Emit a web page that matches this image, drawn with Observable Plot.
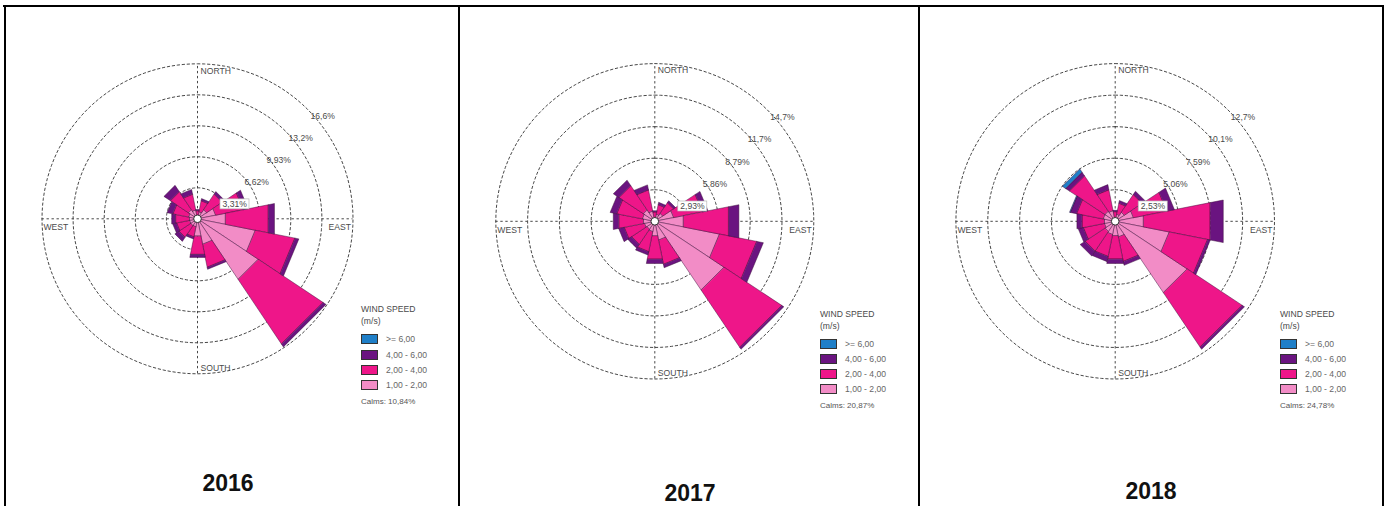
<!DOCTYPE html>
<html><head><meta charset="utf-8">
<script src="https://cdn.jsdelivr.net/npm/d3@7"></script>
<script src="https://cdn.jsdelivr.net/npm/@observablehq/plot@0.6"></script>
<style>
html,body{margin:0;padding:0;background:#fff;}
#page{position:relative;width:1386px;height:506px;overflow:hidden;font-family:"Liberation Sans",Arial,sans-serif;}
.ln{position:absolute;background:#000;}
.t{position:absolute;white-space:nowrap;line-height:1;}
.sw{position:absolute;box-sizing:border-box;border:1px solid #333;}
svg.rose{position:absolute;left:0;top:0;background:transparent !important;}
</style></head><body><div id="page"></div>
<script>
// ---- data ----
const directions = ["N","NNE","NE","ENE","E","ESE","SE","SSE","S","SSW","SW","WSW","W","WNW","NW","NNW"];
const speedClasses = ["1,00 - 2,00","2,00 - 4,00","4,00 - 6,00",">= 6,00"];
const classColors = ["#f28cc6","#ee1689","#6a1480","#1f7fc8"];
const years = ["2016","2017","2018"];
const calms = ["Calms: 10,84%","Calms: 20,87%","Calms: 24,78%"];
const ringSteps = [3.31, 2.93, 2.53];
const ringLabels2016 = ["3,31%","6,62%","9,93%","13,2%","16,6%"];
const ringLabels2017 = ["2,93%","5,86%","8,79%","11,7%","14,7%"];
const ringLabels2018 = ["2,53%","5,06%","7,59%","10,1%","12,7%"];
// frequency (%) per direction, N clockwise
const v2016_1to2 = [0.4,0.8,1.2,2.0,3.05,6.3,7.8,2.8,1.9,0.9,0.9,0.9,0.9,1.0,1.2,1.0];
const v2016_2to4 = [0.5,1.2,2.0,3.0,4.65,4.3,8.3,2.5,2.0,1.1,1.5,1.4,1.5,1.7,2.3,1.7];
const v2016_4to6 = [0.1,0.2,0.3,0.5,0.65,0.4,0.35,0.2,0.3,0.2,0.5,0.4,0.4,0.6,0.8,0.5];
const v2016_ge6  = [0,0,0,0,0,0,0,0,0,0,0,0,0,0,0,0];
const v2017_1to2 = [0.4,0.7,0.9,1.8,2.7,6.1,7.7,1.8,1.4,1.0,0.9,1.0,1.1,1.2,1.3,1.0];
const v2017_2to4 = [0.5,0.9,1.2,2.7,4.25,3.5,6.4,2.3,2.2,1.9,1.7,1.9,2.3,2.4,2.7,2.0];
const v2017_4to6 = [0.1,0.2,0.2,0.5,0.95,0.6,0.2,0.3,0.4,0.3,0.4,0.5,0.5,0.6,0.6,0.45];
const v2017_ge6  = [0,0,0,0,0,0,0,0,0,0,0,0,0,0,0,0];
const v2018_1to2 = [0.35,0.6,0.9,1.5,2.3,4.4,6.9,1.3,1.2,1.1,1.0,0.9,0.9,1.0,1.0,0.9];
const v2018_2to4 = [0.45,0.9,1.7,2.7,5.4,3.1,5.25,2.0,1.9,1.8,1.9,1.7,1.8,2.15,3.4,1.7];
const v2018_4to6 = [0.1,0.2,0.3,0.6,1.05,0.2,0.2,0.3,0.35,0.4,0.45,0.4,0.4,0.5,0.35,0.4];
const v2018_ge6  = [0,0,0,0,0,0,0,0,0,0,0,0,0,0.05,0.3,0];

// ---- layout ----
const page = document.getElementById("page");
const panels = [
  {year: years[0], calm: calms[0], step: ringSteps[0], labels: ringLabels2016,
   series: [v2016_1to2, v2016_2to4, v2016_4to6, v2016_ge6],
   cx: 197, cy: 218.3, rx: 155.5, ry: 155, lx: 361, ly: 309.3, yx: 228, yb: 491},
  {year: years[1], calm: calms[1], step: ringSteps[1], labels: ringLabels2017,
   series: [v2017_1to2, v2017_2to4, v2017_4to6, v2017_ge6],
   cx: 654.3, cy: 220.8, rx: 159, ry: 157.7, lx: 820, ly: 313.5, yx: 690, yb: 501},
  {year: years[2], calm: calms[2], step: ringSteps[2], labels: ringLabels2018,
   series: [v2018_1to2, v2018_2to4, v2018_4to6, v2018_ge6],
   cx: 1114.7, cy: 220.8, rx: 159.3, ry: 157.7, lx: 1280, ly: 313.5, yx: 1151, yb: 499}
];

function addDiv(cls, css, text) {
  const d = document.createElement("div");
  d.className = cls;
  Object.assign(d.style, css);
  if (text != null) d.textContent = text;
  page.appendChild(d);
  return d;
}

// table borders
addDiv("ln", {left: "3px", top: "4.5px", width: "1381px", height: "2px"});
[4, 458, 918, 1382].forEach(x => addDiv("ln", {left: x + "px", top: "4.5px", width: "2px", height: "502px"}));

const rad = Math.PI / 180;
const font = "'Liberation Sans', Arial, sans-serif";

panels.forEach(p => {
  const R = p.step * 5;
  const wedges = [];
  directions.forEach((d, i) => {
    let cum = 0;
    p.series.forEach((vals, c) => {
      const v = vals[i];
      if (!(v > 0)) return;
      const r1 = cum, r2 = cum + v;
      cum = r2;
      const a0 = (i * 22.5 - 11.25) * rad, a1 = (i * 22.5 + 11.25) * rad;
      const id = d + "-" + c;
      [[r1, a0], [r2, a0], [r2, a1], [r1, a1]].forEach(([r, a]) =>
        wedges.push({id, c, x: r * Math.sin(a), y: r * Math.cos(a)}));
    });
  });
  const rings = [];
  for (let k = 1; k <= 5; k++) {
    const r = p.step * k;
    for (let j = 0; j < 144; j++) {
      const a = j * 2.5 * rad;
      rings.push({k, x: r * Math.sin(a), y: r * Math.cos(a)});
    }
  }
  const labels = p.labels.map((t, k) => ({t, x: p.step * (k + 1) * Math.SQRT1_2, y: p.step * (k + 1) * Math.SQRT1_2}));
  const kx = R / p.rx, ky = R / p.ry;
  const box = [{x1: labels[0].x + 1 * kx, x2: labels[0].x + 30 * kx, y1: labels[0].y - 2.5 * ky, y2: labels[0].y - 12.5 * ky}];
  const txt = {fontSize: 8.6, fill: "#4a4a4a", lineAnchor: "middle"};

  const svg = Plot.plot({
    width: 1386, height: 506, margin: 0,
    style: {background: "transparent", fontFamily: font, overflow: "visible"},
    x: {domain: [-R, R], range: [p.cx - p.rx, p.cx + p.rx], axis: null},
    y: {domain: [-R, R], range: [p.cy + p.ry, p.cy - p.ry], axis: null},
    marks: [
      Plot.line(rings, {x: "x", y: "y", z: "k", curve: "linear-closed", stroke: "#333", strokeWidth: 0.9, strokeDasharray: "2.4,2.6"}),
      Plot.ruleX([0], {y1: -R, y2: R, stroke: "#333", strokeWidth: 0.9, strokeDasharray: "2.4,2.6"}),
      Plot.ruleY([0], {x1: -R, x2: R, stroke: "#333", strokeWidth: 0.9, strokeDasharray: "2.4,2.6"}),
      ...classColors.map((col, c) =>
        Plot.line(wedges.filter(w => w.c === c), {x: "x", y: "y", z: "id", curve: "linear-closed", fill: col, stroke: "#3a0a38", strokeWidth: 0.55, strokeOpacity: 0.85})),
      Plot.dot([{x: 0, y: 0}], {x: "x", y: "y", r: 3.8, fill: "white", stroke: "#222", strokeWidth: 0.9}),
      Plot.rect(box, {x1: "x1", x2: "x2", y1: "y1", y2: "y2", fill: "white", stroke: "#b8b8b8", strokeWidth: 0.7}),
      Plot.text(labels, {x: "x", y: "y", text: "t", textAnchor: "start", dx: 3, dy: 7.5, ...txt}),
      Plot.text([{t: "NORTH", x: 0, y: R}], {x: "x", y: "y", text: "t", textAnchor: "start", dx: 3, dy: 7, ...txt}),
      Plot.text([{t: "SOUTH", x: 0, y: -R}], {x: "x", y: "y", text: "t", textAnchor: "start", dx: 3, dy: -5.5, ...txt}),
      Plot.text([{t: "WEST", x: -R, y: 0}], {x: "x", y: "y", text: "t", textAnchor: "start", dx: 1.5, dy: 8.5, ...txt}),
      Plot.text([{t: "EAST", x: R, y: 0}], {x: "x", y: "y", text: "t", textAnchor: "end", dx: -2, dy: 8.5, ...txt})
    ]
  });
  svg.classList.add("rose");
  svg.style.background = "transparent";
  page.appendChild(svg);

  // legend
  const lt = {fontSize: "8.6px", color: "#4a4a4a", transform: "translateY(-50%)"};
  addDiv("t", {left: p.lx + "px", top: p.ly + "px", ...lt}, "WIND SPEED");
  addDiv("t", {left: p.lx + "px", top: (p.ly + 12) + "px", ...lt}, "(m/s)");
  [3, 2, 1, 0].forEach((c, row) => {
    const yc = p.ly + 30 + row * 15.2;
    addDiv("sw", {left: p.lx + "px", top: (yc - 5) + "px", width: "17px", height: "10px", background: classColors[c]});
    addDiv("t", {left: (p.lx + 25) + "px", top: yc + "px", ...lt, color: "#666"}, speedClasses[c]);
  });
  addDiv("t", {left: p.lx + "px", top: (p.ly + 92.4) + "px", ...lt, fontSize: "8px", color: "#555"}, p.calm);

  // year label
  addDiv("t", {left: p.yx + "px", top: (p.yb - 19.5) + "px", transform: "translateX(-50%)", fontSize: "23px", fontWeight: "bold", color: "#111"}, p.year);
});
</script></body></html>
